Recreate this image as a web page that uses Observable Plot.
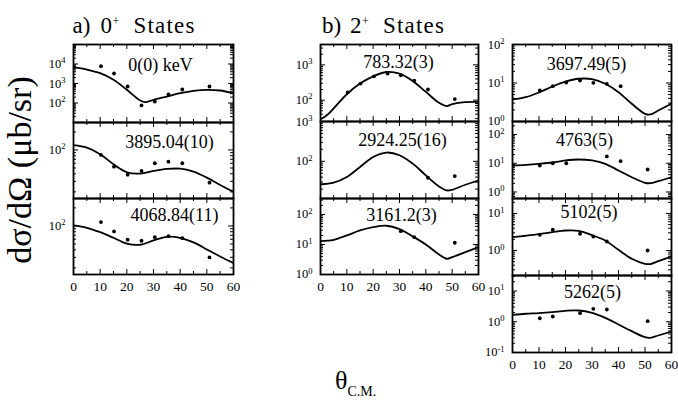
<!DOCTYPE html>
<html><head><meta charset="utf-8">
<script src="https://cdn.jsdelivr.net/npm/d3@7"></script>
<script src="https://cdn.jsdelivr.net/npm/@observablehq/plot@0.6"></script>
<style>
body{margin:0;background:#fff;}
#wrap{position:relative;width:678px;height:401px;overflow:hidden;background:#fff;font-family:"Liberation Serif","Times New Roman",serif;}
#wrap svg, #wrap svg text, #wrap svg tspan{font-family:"Liberation Serif","Times New Roman",serif !important;}
</style></head><body><div id="wrap"></div>
<script>
// ---- tick labels / shared angles ----
const xTicks = [0, 10, 20, 30, 40, 50, 60];
const xMinorTicks = [5, 15, 25, 35, 45, 55];
const pointAngles = [10.3, 15.2, 20.3, 25.5, 30.5, 35.6, 40.8, 51];

// ---- data points (µb/sr), null = not measured ----
const pts_0 = [7700, 3250, 700, 75, 119, 273, 492, 700];
const pts_3895 = [82.5, 52.7, 38.7, 44.7, 60, 63.8, 60, 28.5];
const pts_4068 = [116, 81, 58.9, 56.7, 65, 67.6, 62.6, 29.9];
const pts_783 = [165, 295, 474, 565, 506, 359, 200, 107];
const pts_2924 = [null, null, null, null, null, null, 38.6, 42.5];
const pts_3161 = [null, null, null, null, 27.8, 17.5, null, 11.4];
const pts_3697 = [6.38, 8.26, 10.3, 11.6, 10.1, 9.53, 8.26, null];
const pts_4763 = [8.35, 10.0, 10.0, null, null, 17.2, 11.8, 6.06];
const pts_5102 = [2.66, 3.63, null, 2.83, 2.39, 1.75, null, 1.0];
const pts_5262 = [1.3, 1.48, null, 1.9, 2.64, 2.5, null, 1.04];

// ---- calculated curves ----
const cAng_0 = [0, 5, 10, 15, 20, 25, 27, 30, 35, 40, 45, 50, 55, 60];
const cur_0 = [6850, 5220, 3370, 1550, 475, 134, 110, 146, 215, 318, 423, 475, 437, 318];
const cAng_std = [0, 5, 10, 15, 20, 25, 30, 35, 40, 45, 50, 55, 60];
const cur_3895 = [120, 109, 84.8, 57.8, 42.5, 40.3, 44.7, 48.2, 48.8, 43.5, 34.5, 26.1, 20];
const cur_4068 = [102, 93.3, 78.8, 63.5, 50.5, 48.6, 57.3, 66, 63.5, 53.1, 40.6, 31, 24];
const cAng_783 = [0, 2.5, 5, 10, 15, 20, 25, 30, 35, 40, 45, 48, 50, 55, 60];
const cur_783 = [28.6, 37.8, 58.4, 147, 295, 474, 627, 565, 350, 171, 84, 67.8, 77, 88, 89.6];
const cAng_48 = [0, 5, 10, 15, 20, 25, 30, 35, 40, 45, 48, 50, 55, 60];
const cur_2924 = [26.2, 28.9, 40.1, 71.8, 128, 166, 142, 87.5, 44.3, 23.3, 18.5, 19.2, 25.7, 33];
const cur_3161 = [12.9, 14.3, 20, 29.3, 37.7, 42, 32.4, 18.5, 10, 4.64, 3.34, 3.78, 5.54, 8.13];
const cAng_52 = [0, 5, 10, 15, 20, 25, 30, 35, 40, 45, 50, 52, 55, 60];
const cur_3697 = [3.73, 4.28, 5.67, 8.11, 10.9, 12.9, 12.6, 9.53, 5.77, 2.88, 1.58, 1.52, 1.93, 2.88];
const cur_4763 = [8.35, 8.84, 9.57, 10.6, 12.5, 13.5, 12.5, 9.57, 5.6, 3.27, 2.09, 2.02, 2.37, 3.27];
const cur_5102 = [2.29, 2.5, 2.76, 3.12, 3.47, 3.41, 2.59, 1.86, 1.04, 0.596, 0.437, 0.43, 0.514, 0.689];
const cur_5262 = [1.68, 1.82, 1.9, 2.05, 2.27, 2.32, 1.95, 1.34, 0.815, 0.493, 0.315, 0.301, 0.357, 0.482];

const panels = [
  {label: "0(0) keV", left: 73, top: 44, w: 160, h: 78, domain: [10, 1e5], majors: [100, 1000, 10000], cx: cAng_0, cy: cur_0, py: pts_0, xl: false, ldx: 7, ldy: 21},
  {label: "3895.04(10)", left: 73, top: 122, w: 160, h: 76, domain: [15.5, 287], majors: [100], cx: cAng_std, cy: cur_3895, py: pts_3895, xl: false, ldx: 16, ldy: 19.5},
  {label: "4068.84(11)", left: 73, top: 198, w: 160, h: 76, domain: [15.5, 287], majors: [100], cx: cAng_std, cy: cur_4068, py: pts_4068, xl: true, ldx: 21, ldy: 17},
  {label: "783.32(3)", left: 320, top: 44, w: 158, h: 77, domain: [24.8, 3780], majors: [100, 1000], cx: cAng_783, cy: cur_783, py: pts_783, xl: false, ldx: -1, ldy: 18},
  {label: "2924.25(16)", left: 320, top: 121, w: 158, h: 77, domain: [11.6, 1001], majors: [100, 1000], cx: cAng_48, cy: cur_2924, py: pts_2924, xl: false, ldx: 3, ldy: 19},
  {label: "3161.2(3)", left: 320, top: 198, w: 158, h: 76, domain: [0.999, 340], majors: [1, 10, 100], cx: cAng_48, cy: cur_3161, py: pts_3161, xl: true, ldx: 2, ldy: 17},
  {label: "3697.49(5)", left: 512, top: 44, w: 159, h: 77, domain: [0.999, 100.1], majors: [1, 10, 100], cx: cAng_52, cy: cur_3697, py: pts_3697, xl: false, ldx: -5.5, ldy: 19.3},
  {label: "4763(5)", left: 512, top: 121, w: 159, h: 77, domain: [0.594, 283], majors: [1, 10, 100], cx: cAng_52, cy: cur_4763, py: pts_4763, xl: false, ldx: -7.5, ldy: 18.3},
  {label: "5102(5)", left: 512, top: 198, w: 159, h: 77, domain: [0.211, 25.4], majors: [1, 10], cx: cAng_52, cy: cur_5102, py: pts_5102, xl: false, ldx: -3, ldy: 14},
  {label: "5262(5)", left: 512, top: 275, w: 159, h: 77, domain: [0.0999, 31.9], majors: [0.1, 1, 10], cx: cAng_52, cy: cur_5262, py: pts_5262, xl: true, ldx: 0.5, ldy: 16.7}
];

const wrap = document.getElementById("wrap");
const FONT = "Liberation Serif";

function makePanel(p) {
  const ml = 42, mr = 8, mt = 4, mb = 24;
  const [lo, hi] = p.domain;
  const decades = d3.range(Math.floor(Math.log10(lo)) - 1, Math.ceil(Math.log10(hi)) + 1);
  const yMajor = decades.map(k => Math.pow(10, k)).filter(v => v >= lo && v <= hi);
  const yMinor = decades.flatMap(k => d3.range(2, 10).map(m => m * Math.pow(10, k))).filter(v => v > lo && v < hi);
  const curve = p.cx.map((x, i) => ({x, y: p.cy[i]}));
  const pts = pointAngles.map((x, i) => ({x, y: p.py[i]})).filter(d => d.y != null);
  const w = p.w, h = p.h;
  const marks = [
    Plot.line(curve, {x: "x", y: "y", curve: "catmull-rom", stroke: "black", strokeWidth: 1.8, clip: true}),
    Plot.dot(pts, {x: "x", y: "y", r: 1.9, fill: "black", stroke: "none"}),
    // inward ticks
    Plot.ruleX(xTicks, {x: d => d, insetTop: h - 5, stroke: "black"}),
    Plot.ruleX(xTicks, {x: d => d, insetBottom: h - 5, stroke: "black"}),
    Plot.ruleX(xMinorTicks, {x: d => d, insetTop: h - 3, stroke: "black"}),
    Plot.ruleX(xMinorTicks, {x: d => d, insetBottom: h - 3, stroke: "black"}),
    Plot.ruleY(yMajor, {y: d => d, insetRight: w - 5, stroke: "black"}),
    Plot.ruleY(yMajor, {y: d => d, insetLeft: w - 5, stroke: "black"}),
    Plot.ruleY(yMinor, {y: d => d, insetRight: w - 3, stroke: "black"}),
    Plot.ruleY(yMinor, {y: d => d, insetLeft: w - 3, stroke: "black"}),
    Plot.frame({stroke: "black", strokeWidth: 1.8}),
    Plot.axisY({ticks: p.majors, anchor: "left", tickSize: 0, tickPadding: 8, fontSize: 12.5, label: null,
      tickFormat: d => String(Math.round(Math.log10(d)))}),
    Plot.text([p.label], {text: d => d, frameAnchor: "top", dx: p.ldx, dy: p.ldy, fontSize: 18, lineAnchor: "middle", fill: "black"})
  ];
  if (p.xl) marks.push(Plot.axisX({ticks: xTicks, anchor: "bottom", tickSize: 0, tickPadding: 6.5, fontSize: 13.5, label: null}));
  const svg = Plot.plot({
    width: w + ml + mr, height: h + mt + mb,
    marginLeft: ml, marginRight: mr, marginTop: mt, marginBottom: mb,
    x: {domain: [0, 60], axis: null},
    y: {type: "log", domain: p.domain, axis: null},
    style: {fontFamily: FONT, background: "transparent", overflow: "visible", color: "black", position: "absolute", left: (p.left - ml) + "px", top: (p.top - mt) + "px", maxWidth: "none"},
    marks
  });
  svg.setAttribute("font-family", FONT);
  d3.select(svg).selectAll('g[aria-label="y-axis tick label"] text').each(function () {
    const e = this.textContent;
    this.textContent = "";
    d3.select(this).append("tspan").text("10");
    d3.select(this).append("tspan").attr("dy", "-0.55em").attr("font-size", "8.5px").text(e);
  });
  wrap.appendChild(svg);
}
panels.forEach(makePanel);

// ---- titles and axis titles ----
const over = d3.select(wrap).append("svg").attr("width", 678).attr("height", 401)
  .style("position", "absolute").style("left", "0px").style("top", "0px")
  .attr("font-family", FONT).attr("fill", "black");
function title(x0, a, b) {
  const t = over.append("text").attr("y", 33).attr("font-size", 23);
  t.append("tspan").attr("x", x0).text(a);
  t.append("tspan").attr("x", x0 + 28).text(b);
  t.append("tspan").attr("x", x0 + 40).attr("dy", -8).attr("font-size", 12).text("+");
  t.append("tspan").attr("x", x0 + 61).attr("dy", 8).attr("textLength", 61).attr("lengthAdjust", "spacing").text("States");
}
title(72.5, "a)", "0");
title(322, "b)", "2");
over.append("text").attr("transform", "translate(31,170) rotate(-90)").attr("text-anchor", "middle")
  .attr("font-size", 34).text("dσ/dΩ (μb/sr)");
const xt = over.append("text").attr("x", 335).attr("y", 389).attr("font-size", 26);
xt.append("tspan").text("θ");
xt.append("tspan").attr("dy", 7).attr("font-size", 14).text("C.M.");
</script></body></html>
